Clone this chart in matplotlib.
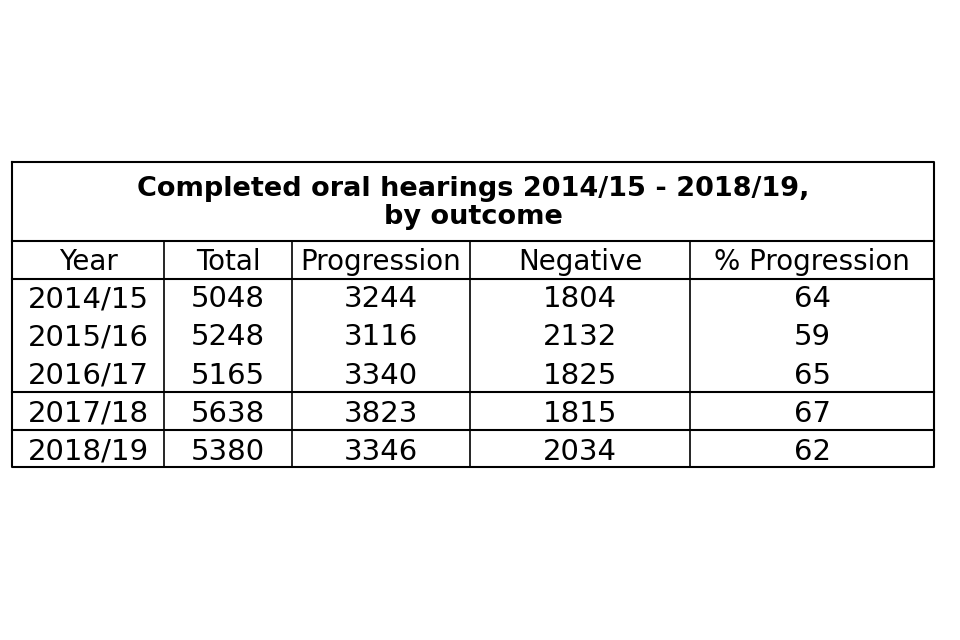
import matplotlib.pyplot as plt

title = "Completed oral hearings 2014/15 - 2018/19,\nby outcome"
headers = ["Year", "Total", "Progression", "Negative", "% Progression"]
years = ["2014/15", "2015/16", "2016/17", "2017/18", "2018/19"]
total = [5048, 5248, 5165, 5638, 5380]
progression = [3244, 3116, 3340, 3823, 3346]
negative = [1804, 2132, 1825, 1815, 2034]
pct_progression = [64, 59, 65, 67, 62]

fig = plt.figure(figsize=(9.6, 6.4), dpi=100)
ax = fig.add_axes([0, 0, 1, 1])
ax.set_xlim(0, 960)
ax.set_ylim(640, 0)
ax.axis('off')

# layout in pixels
col_x = [12, 164, 292, 470, 690, 934]
row_y = [279, 317, 355, 392, 430, 467]
top, title_bot = 162, 241

lw = 1.5
ax.plot([12, 934, 934, 12, 12], [top, top, 467, 467, top], color='black', lw=lw)
for y in [title_bot, 279, 392, 430]:
    ax.plot([12, 934], [y, y], color='black', lw=lw)
for x in col_x[1:-1]:
    ax.plot([x, x], [title_bot, 467], color='black', lw=1.2)

ax.text(473, 203, title, ha='center', va='center', fontsize=19.5,
        fontweight='bold', linespacing=1.05, family='DejaVu Sans')

centers = [(col_x[i] + col_x[i + 1]) / 2 for i in range(5)]
for c, h in zip(centers, headers):
    ax.text(c, 262, h, ha='center', va='center', fontsize=20)

rows = list(zip(years, total, progression, negative, pct_progression))
row_centers = [299, 337, 376, 414, 452]
for yc, row in zip(row_centers, rows):
    for c, v in zip(centers, row):
        ax.text(c, yc, str(v), ha='center', va='center', fontsize=21)

fig.savefig('out.png', dpi=100)
